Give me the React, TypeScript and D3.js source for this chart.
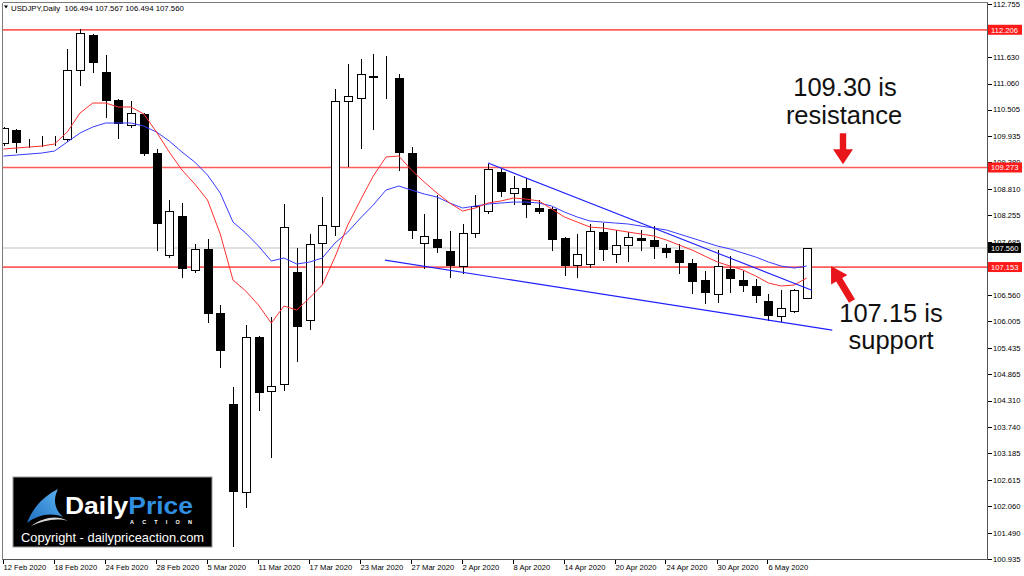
import React from "react";
import * as d3 from "d3";

const dates = [
  "12 Feb","13 Feb","14 Feb","17 Feb","18 Feb","19 Feb","20 Feb","21 Feb","24 Feb","25 Feb","26 Feb","27 Feb","28 Feb",
  "2 Mar","3 Mar","4 Mar","5 Mar","6 Mar","9 Mar","10 Mar","11 Mar","12 Mar","13 Mar","16 Mar","17 Mar","18 Mar","19 Mar","20 Mar","23 Mar","24 Mar","25 Mar","26 Mar","27 Mar","30 Mar","31 Mar",
  "1 Apr","2 Apr","3 Apr","6 Apr","7 Apr","8 Apr","9 Apr","10 Apr","13 Apr","14 Apr","15 Apr","16 Apr","17 Apr","20 Apr","21 Apr","22 Apr","23 Apr","24 Apr","27 Apr","28 Apr","29 Apr","30 Apr",
  "1 May","4 May","5 May","6 May","7 May","8 May","11 May",
].map((d) => d + " 2020");

const opens = [
  109.794,110.071,109.80,109.84,109.83,109.879,111.349,112.095,111.306,110.71,110.178,110.412,109.581,
  107.409,108.239,107.089,107.537,106.173,104.235,102.36,105.662,104.512,104.661,107.046,106.024,107.664,108.026,110.689,110.753,111.21,111.21,111.179,109.581,107.664,107.749,
  107.494,107.174,107.877,108.346,109.176,108.729,108.836,108.41,108.388,107.771,107.196,107.217,107.898,107.43,107.621,107.771,107.728,107.558,107.515,107.238,106.876,106.578,
  107.111,106.877,106.749,106.429,106.109,106.216,106.494,
];
const highs = [
  110.156,110.114,109.901,109.964,109.964,111.82,112.243,112.13,111.69,110.75,110.71,110.454,109.688,
  108.601,108.537,107.664,107.771,106.365,104.618,105.939,105.70,106.109,108.516,107.579,107.877,108.665,110.966,111.498,111.605,111.711,111.669,111.285,109.730,108.303,108.708,
  107.941,108.090,108.708,109.368,109.262,109.113,109.070,108.601,108.452,107.813,107.877,108.090,108.111,107.962,107.920,107.962,108.048,107.664,107.664,107.345,107.089,107.537,
  107.409,107.089,106.919,106.599,106.685,106.706,107.567,
];
const lows = [
  109.752,109.602,109.709,109.730,109.752,109.837,111.030,111.306,110.348,109.901,110.135,109.54,107.515,
  107.366,106.940,107.046,105.982,105.023,101.210,102.041,104.107,103.106,104.533,105.151,105.832,106.813,107.835,109.304,109.688,110.092,110.753,109.219,107.771,107.132,107.472,
  106.940,107.025,107.792,108.30,108.665,108.495,108.218,108.303,107.515,106.983,106.940,107.153,107.302,107.259,107.281,107.515,107.345,107.366,107.025,106.599,106.386,106.407,
  106.620,106.642,106.407,106.024,106.003,106.19,106.494,
];
const closes = [
  110.114,109.815,109.79,109.83,109.84,111.349,112.137,111.519,110.710,110.22,110.433,109.581,108.09,
  108.346,107.132,107.537,106.173,105.385,102.382,105.662,104.49,104.618,108.005,105.896,107.643,108.048,110.689,110.795,111.264,111.23,111.20,109.602,107.941,107.813,107.579,
  107.196,107.877,108.452,109.240,108.772,108.836,108.495,108.346,107.749,107.196,107.43,107.92,107.537,107.621,107.792,107.728,107.60,107.472,107.259,106.855,106.620,107.174,
  106.919,106.77,106.557,106.131,106.28,106.663,107.560,
];
// red (fast) moving average
const maFast = [
  109.666,109.688,109.709,109.730,109.773,110.028,110.433,110.646,110.646,110.561,110.561,110.412,110.028,
  109.602,109.219,108.921,108.580,107.856,106.876,106.642,106.344,105.960,106.322,106.237,106.493,106.770,107.366,108.048,108.580,109.091,109.496,109.517,109.219,108.963,108.729,
  108.516,108.346,108.410,108.516,108.559,108.623,108.601,108.559,108.388,108.218,108.111,108.005,107.984,107.941,107.898,107.856,107.813,107.728,107.621,107.515,107.387,107.259,
  107.174,107.089,106.961,106.813,106.749,106.770,106.919,
];
// blue (slow) moving average
const maSlow = [
  109.517,109.538,109.560,109.581,109.624,109.815,110.007,110.135,110.220,110.220,110.220,110.156,110.028,
  109.837,109.602,109.389,109.113,108.729,108.111,107.877,107.600,107.281,107.345,107.217,107.259,107.345,107.664,107.898,108.197,108.474,108.793,108.878,108.793,108.708,108.644,
  108.516,108.410,108.452,108.495,108.516,108.537,108.537,108.516,108.452,108.324,108.218,108.133,108.111,108.090,108.069,108.026,107.984,107.941,107.856,107.771,107.685,107.600,
  107.537,107.451,107.366,107.259,107.174,107.132,107.174,
];

const priceTicks = [112.755,112.185,111.630,111.060,110.505,109.935,109.380,108.810,108.255,107.685,107.130,106.560,106.005,105.435,104.865,104.310,103.740,103.185,102.615,102.060,101.490,100.935];
const dateTickIdx = [0,4,8,12,16,20,24,28,32,36,40,44,48,52,56,60];
const levels = [112.206, 109.273, 107.153];
const lastPrice = 107.560;
// trendlines: [startIndex, startPrice, endIndex, endPrice]
const upperTrend = [38, 109.368, 63.4, 106.66];
const lowerTrend = [29.92, 107.30, 65.0, 105.81];

const titleText = "USDJPY,Daily  106.494 107.567 106.494 107.560";

const PL = 2.5, PR = 987.5, PT = 2.5, PB = 559.5;
const AX_FONT = "'Liberation Sans', Arial, sans-serif";

function arrowPath(tip: [number, number], tail: [number, number], headLen: number, headHalf: number, shaftHalf: number) {
  const dx = tail[0] - tip[0], dy = tail[1] - tip[1];
  const L = Math.hypot(dx, dy);
  const ux = dx / L, uy = dy / L;
  const nx = -uy, ny = ux;
  const bx = tip[0] + ux * headLen, by = tip[1] + uy * headLen;
  const pts: [number, number][] = [
    tip,
    [bx + nx * headHalf, by + ny * headHalf],
    [bx + nx * shaftHalf, by + ny * shaftHalf],
    [tail[0] + nx * shaftHalf, tail[1] + ny * shaftHalf],
    [tail[0] - nx * shaftHalf, tail[1] - ny * shaftHalf],
    [bx - nx * shaftHalf, by - ny * shaftHalf],
    [bx - nx * headHalf, by - ny * headHalf],
  ];
  return "M" + pts.map((p) => p[0].toFixed(1) + "," + p[1].toFixed(1)).join("L") + "Z";
}

export default function App() {
  const y = d3.scaleLinear().domain([100.935, 112.755]).range([559, 4]);
  const x = d3.scaleLinear().domain([0, 63]).range([3.5, 806.75]);
  const cx = (i: number) => Math.round(x(i)) + 0.5;
  const cy = (v: number) => Math.round(y(v)) + 0.5;

  const maLine = d3.line<number>().x((_, i) => x(i)).y((d) => y(d));

  const red = "#e8161b";

  return (
    <svg width={1024} height={576} style={{ position: "absolute", left: 0, top: 0, background: "#fff" }}>
      <defs>
        <clipPath id="plot">
          <rect x={PL} y={PT} width={PR - PL} height={PB - PT} />
        </clipPath>
        <linearGradient id="swoosh" x1="0" y1="1" x2="1" y2="0">
          <stop offset="0" stopColor="#1d6fc2" />
          <stop offset="1" stopColor="#5fb4f0" />
        </linearGradient>
      </defs>
      <rect x={0} y={0} width={1024} height={576} fill="#fff" />

      <g clipPath="url(#plot)">
        {/* last price line */}
        <line x1={PL} x2={PR} y1={y(lastPrice)} y2={y(lastPrice)} stroke="#d6d6d6" strokeWidth={1.6} />
        {/* horizontal levels */}
        {levels.map((v) => (
          <line key={v} x1={PL} x2={PR} y1={y(v)} y2={y(v)} stroke="#ff5c5c" strokeWidth={1.7} />
        ))}
        {/* candles */}
        <g shapeRendering="crispEdges">
          {opens.map((o, i) => {
            const c = closes[i];
            const up = c >= o;
            const top = cy(Math.max(o, c));
            const bot = cy(Math.min(o, c));
            return (
              <g key={i}>
                <line x1={cx(i)} x2={cx(i)} y1={cy(highs[i])} y2={cy(lows[i])} stroke="#000" strokeWidth={1} />
                <rect x={cx(i) - 4} y={top} width={8} height={Math.max(bot - top, 0)} fill={up ? "#fff" : "#000"} stroke="#000" strokeWidth={1} />
              </g>
            );
          })}
        </g>
        {/* moving averages */}
        <path d={maLine(maSlow) || ""} fill="none" stroke="#3a3aff" strokeWidth={1} />
        <path d={maLine(maFast) || ""} fill="none" stroke="#ff3030" strokeWidth={1} />
        {/* trendlines */}
        <line x1={x(upperTrend[0])} y1={y(upperTrend[1])} x2={x(upperTrend[2])} y2={y(upperTrend[3])} stroke="#2020ff" strokeWidth={1.1} />
        <line x1={x(lowerTrend[0])} y1={y(lowerTrend[1])} x2={x(lowerTrend[2])} y2={y(lowerTrend[3])} stroke="#2020ff" strokeWidth={1.1} />
      </g>

      {/* frame */}
      <g shapeRendering="crispEdges">
        <line x1={PL} x2={PR} y1={PT} y2={PT} stroke="#7a7a7a" />
        <line x1={PL} x2={PL} y1={PT} y2={PB} stroke="#7a7a7a" />
        <line x1={PL} x2={PR} y1={PB} y2={PB} stroke="#555" />
        <line x1={PR} x2={PR} y1={PT} y2={PB} stroke="#555" />
      </g>

      {/* price axis */}
      <g fontFamily={AX_FONT} fontSize={7.6} fill="#000">
        {priceTicks.map((v) => (
          <g key={v}>
            <line x1={PR} x2={PR + 4} y1={cy(v)} y2={cy(v)} stroke="#000" shapeRendering="crispEdges" />
            <text x={993} y={y(v) + 2.8}>{v.toFixed(3)}</text>
          </g>
        ))}
        <rect x={988} y={y(lastPrice) - 5} width={33} height={10} fill="#000" />
        <text x={991} y={y(lastPrice) + 2.8} fill="#fff">{lastPrice.toFixed(3)}</text>
        {levels.map((v) => (
          <g key={v}>
            <rect x={988} y={y(v) - 5} width={34} height={10} fill="#ff1a1a" />
            <text x={991} y={y(v) + 2.8} fill="#fff">{v.toFixed(3)}</text>
          </g>
        ))}
      </g>

      {/* date axis */}
      <g fontFamily={AX_FONT} fontSize={7.6} fill="#000">
        {dateTickIdx.map((i) => (
          <g key={i}>
            <line x1={Math.round(x(i)) - 0.5} x2={Math.round(x(i)) - 0.5} y1={PB} y2={PB + 4} stroke="#000" shapeRendering="crispEdges" />
            <text x={x(i)} y={569.5}>{dates[i]}</text>
          </g>
        ))}
      </g>

      {/* title */}
      <g fontFamily={AX_FONT} fontSize={7.8} fill="#000">
        <path d="M4,5.5 L8,5.5 L6,8.5 Z" fill="#000" />
        <text x={11} y={10.5} xmlSpace="preserve">{titleText}</text>
      </g>

      {/* annotations */}
      <g fontFamily="'Liberation Sans', Arial, sans-serif" fontSize={25.5} fill="#111" textAnchor="middle">
        <text x={845} y={96}>109.30 is</text>
        <text x={844} y={124}>resistance</text>
        <text x={891} y={322}>107.15 is</text>
        <text x={891} y={349}>support</text>
      </g>
      <path d={arrowPath([843, y(109.3) - 2], [843, y(109.3) - 33], 15, 10, 3.2)} fill={red} />
      <path d={arrowPath([831, y(107.153) - 1], [852, y(107.153) + 34], 16, 9.5, 3.5)} fill={red} />

      {/* logo */}
      <g>
        <rect x={13} y={477} width={199} height={70} fill="#000" stroke="#9a9a9a" strokeWidth={1} />
        <path d="M27,523 C33,507 44,496 58,489 C53,499 54,509 63,517 C50,512 38,515 27,523 Z" fill="url(#swoosh)" />
        <path d="M31,526 C44,517 57,515 68,521 C57,518 44,520 31,526 Z" fill="#d8d8d8" />
        <text x={65} y={514} fontFamily="'Liberation Sans', Arial, sans-serif" fontWeight="bold" fontSize={24} textLength={128} lengthAdjust="spacingAndGlyphs">
          <tspan fill="#fff">Daily</tspan>
          <tspan fill="#2f8fe0">Price</tspan>
        </text>
        <text x={130} y={524} fontFamily="'Liberation Sans', Arial, sans-serif" fontWeight="bold" fontSize={5.5} fill="#fff" textLength={62} lengthAdjust="spacing">ACTION</text>
        <text x={21} y={542} fontFamily="'Liberation Sans', Arial, sans-serif" fontSize={13} fill="#fff" textLength={183} lengthAdjust="spacingAndGlyphs">Copyright - dailypriceaction.com</text>
      </g>
    </svg>
  );
}
